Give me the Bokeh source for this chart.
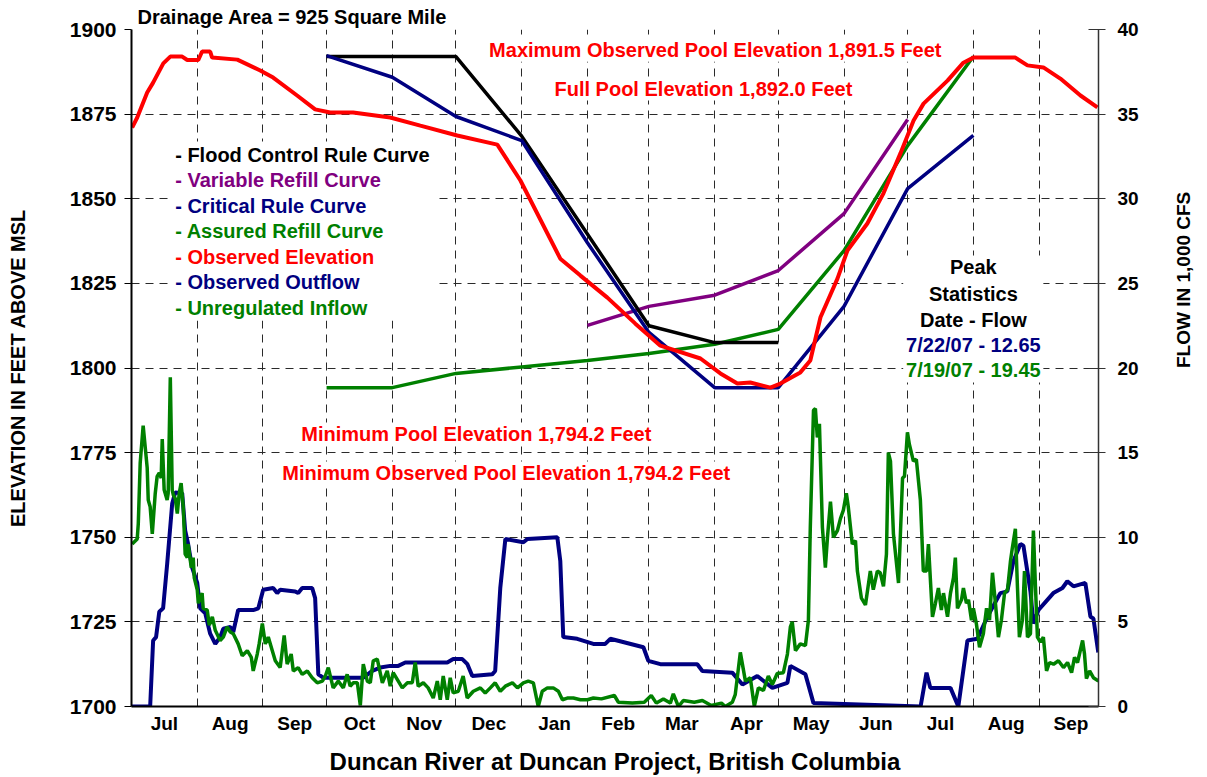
import math
from bokeh.plotting import figure
from bokeh.models import Range1d, LinearAxis, FixedTicker, Label, BoxAnnotation
from bokeh.embed import file_html
from bokeh.resources import INLINE

# x values are days since 1 Jul 2007
month_starts = [0, 31, 62, 92, 123, 153, 184, 215, 244, 275, 305, 336, 366, 397, 428, 458]
month_labels = ["Jul", "Aug", "Sep", "Oct", "Nov", "Dec", "Jan", "Feb", "Mar", "Apr",
                "May", "Jun", "Jul", "Aug", "Sep"]
elev_ticks = [1700, 1725, 1750, 1775, 1800, 1825, 1850, 1875, 1900]
flow_ticks = [0, 5, 10, 15, 20, 25, 30, 35, 40]

flood_day = [92, 153, 184, 244, 275, 305]
flood_elev = [1892.0, 1892.0, 1868.5, 1812.5, 1807.5, 1807.5]

variable_day = [215, 244, 275, 305, 336, 366]
variable_elev = [1812.6, 1818.2, 1821.5, 1828.8, 1845.6, 1873.4]

critical_day = [92, 123, 153, 184, 215, 244, 275, 305, 336, 366, 397]
critical_elev = [1892.3, 1885.9, 1874.3, 1867.2, 1837.0, 1810.5, 1794.2, 1794.2, 1818.2, 1853.0, 1868.7]

assured_day = [92, 123, 153, 184, 215, 244, 275, 305, 336, 366, 397]
assured_elev = [1794.2, 1794.2, 1798.4, 1800.3, 1802.2, 1804.3, 1807.0, 1811.4, 1834.7, 1865.7, 1892.0]

obs_elev_day = [0.3, 2.7, 7.4, 10.2, 15, 18.3, 23.9, 26.3, 31.5, 33.3,
                37.1, 38, 49.9, 60.7, 66.8, 78.1, 86.6, 93.7, 104.5, 122,
                136.2, 153.6, 172.5, 183.4, 202.2, 211.7, 224.4, 237.6, 249.4, 268.3,
                277.7, 285.7, 291.8, 301.3, 306, 315.4, 320.1, 324.9, 332.9, 337.6,
                347, 354.6, 362.6, 368.8, 373.5, 384.8, 392.3, 397, 406.5, 416.8,
                422.5, 430, 438, 447.5, 455.5]
obs_elev = [1871.0, 1874.0, 1881.4, 1884.3, 1890.0, 1892.0, 1892.0, 1891.0, 1891.0, 1893.5,
            1893.5, 1891.7, 1891.1, 1887.9, 1885.8, 1880.5, 1876.4, 1875.5, 1875.5, 1874.0,
            1871.6, 1868.7, 1866.0, 1855.4, 1832.3, 1827.3, 1820.8, 1813.1, 1806.6, 1802.8,
            1798.4, 1795.4, 1795.7, 1794.2, 1795.4, 1798.7, 1802.2, 1815.0, 1826.4, 1834.7,
            1842.7, 1851.6, 1863.4, 1873.1, 1878.1, 1884.9, 1890.2, 1891.7, 1891.7, 1891.7,
            1889.4, 1888.8, 1885.5, 1880.5, 1877.0]

outflow_day = [0, 8.8, 10.2, 11.6, 13.1, 14.9, 16.8, 19.2, 20.6, 23.9,
               25.3, 26.7, 28.6, 31, 32.4, 34.8, 37.1, 39.5, 41.8, 43.3,
               46.6, 48, 50.3, 57.4, 59.8, 62.1, 66.8, 68.7, 70.1, 77.2,
               78.6, 80.5, 85.2, 86.6, 88.1, 90.4, 109.3, 113.5, 117.3, 122,
               125.8, 129.1, 148.9, 151.7, 156, 158.4, 160.7, 170.1, 171.5, 173.9,
               176.3, 184.8, 186.7, 200.8, 202.2, 203.6, 210.2, 217.8, 223.4, 225.8,
               241.4, 243.7, 249.4, 254.1, 266.8, 269.2, 283.3, 288.1, 295.1, 302.2,
               309.3, 310.7, 317.8, 321.6, 372.1, 374.9, 376.7, 386.2, 389.9, 394.2,
               398.9, 403.6, 409.7, 413, 415.9, 419.2, 420.6, 423.9, 425.3, 427.7,
               431.9, 434.7, 439, 441.3, 444.2, 449.8, 452.2, 453.6, 455.9]
outflow = [0, 0, 3.9, 4.1, 5.6, 5.8, 8.4, 12.0, 12.65, 12.6,
           10.4, 9.6, 8.2, 7.3, 5.8, 5.5, 4.3, 3.7, 4.1, 4.6,
           4.7, 4.4, 5.7, 5.7, 5.8, 6.9, 7.0, 6.7, 6.9, 6.8,
           6.7, 7.0, 7.0, 6.4, 1.9, 1.7, 1.7, 2.1, 2.3, 2.4,
           2.4, 2.6, 2.6, 2.8, 2.8, 2.5, 1.8, 1.9, 2.1, 7.0,
           9.9, 9.7, 9.9, 10.0, 8.6, 4.1, 4.0, 3.7, 3.7, 4.0,
           3.5, 2.7, 2.5, 2.5, 2.5, 2.1, 2.0, 1.3, 1.8, 1.1,
           1.4, 2.4, 1.9, 0.2, 0, 2.0, 1.1, 1.1, 0, 3.9,
           4.0, 5.3, 6.7, 6.8, 8.6, 9.6, 9.5, 6.8, 4.9, 5.7,
           6.3, 6.7, 7.0, 7.4, 7.1, 7.3, 5.3, 5.2, 3.2]

inflow_day = [0.3, 2.7, 3.2, 4.1, 5.5, 7.4, 7.9, 8.8, 9.8, 11.2,
              12.1, 13.1, 14.0, 14.5, 15.4, 16.8, 17.3, 18.3, 19.2, 19.7,
              20.6, 21.6, 22.5, 23.4, 24.4, 25.3, 26.3, 26.7, 28.2, 29.1,
              29.6, 31.0, 31.5, 33.3, 33.8, 35.7, 36.7, 38.1, 39.5, 41.8,
              43.3, 45.1, 46.6, 48.0, 50.3, 52.2, 54.6, 56.5, 57.4, 59.3,
              60.2, 61.7, 63.1, 64.5, 66.4, 67.8, 70.1, 72.0, 73.4, 75.3,
              76.3, 78.6, 80.5, 82.9, 85.2, 87.6, 90.0, 91.4, 92.8, 95.1,
              97.5, 99.9, 101.7, 103.1, 104.6, 106.5, 107.9, 109.3, 111.2, 112.6,
              114.0, 115.9, 118.3, 120.6, 122.0, 123.4, 125.8, 127.7, 130.1, 132.4,
              133.8, 135.2, 137.6, 139.9, 142.3, 144.2, 145.6, 147.0, 148.9, 150.3,
              151.7, 154.1, 156.4, 158.3, 161.2, 164.5, 166.8, 169.2, 171.5, 173.9,
              176.3, 179.6, 182.0, 184.8, 187.1, 189.5, 191.8, 193.7, 196.1, 198.9,
              201.3, 203.2, 205.5, 208.4, 211.7, 215.0, 217.8, 221.6, 227.7, 229.6,
              236.2, 241.8, 245.1, 247.5, 250.8, 254.1, 255.5, 257.9, 260.2, 265.4,
              269.2, 273.4, 278.2, 280.0, 283.3, 284.7, 287.1, 289.5, 291.8, 293.7,
              295.6, 298.0, 300.3, 302.2, 304.5, 307.4, 309.3, 310.7, 311.6, 313.1,
              315.4, 317.8, 319.2, 320.1, 321.6, 322.5, 323.4, 324.4, 325.8, 327.2,
              328.2, 329.6, 331.0, 332.9, 334.3, 335.7, 337.1, 338.0, 339.9, 341.4,
              342.3, 344.2, 346.1, 348.4, 349.8, 351.7, 353.1, 354.6, 356.0, 356.9,
              357.9, 359.3, 361.7, 363.6, 364.5, 365.9, 366.8, 368.7, 370.1, 372.0,
              373.4, 374.9, 375.8, 377.7, 379.1, 380.5, 381.9, 382.9, 384.8, 386.2,
              387.6, 388.5, 389.5, 391.4, 392.3, 393.7, 394.7, 396.1, 397.0, 398.4,
              399.9, 401.7, 403.2, 404.6, 406.0, 407.4, 408.8, 410.2, 411.7, 413.1,
              414.5, 415.4, 416.8, 417.8, 418.7, 420.1, 421.1, 422.5, 423.9, 425.3,
              426.3, 427.2, 428.6, 430.0, 431.5, 432.9, 434.8, 437.1, 439.5, 441.4,
              443.3, 444.7, 446.1, 448.5, 449.4, 450.3, 451.8, 453.6, 456.0]
inflow = [9.6, 9.9, 10.8, 14.4, 16.6, 14.1, 12.2, 11.8, 10.2, 12.6,
          13.6, 13.8, 13.5, 15.8, 12.8, 12.2, 12.6, 19.45, 12.8, 12.5,
          12.3, 11.4, 12.6, 13.2, 11.8, 9.0, 8.8, 9.6, 8.2, 8.8,
          7.6, 6.9, 6.1, 6.7, 5.8, 5.7, 4.8, 5.3, 4.5, 3.9,
          4.1, 4.7, 4.4, 4.3, 3.7, 3.0, 3.3, 2.9, 2.1, 3.1,
          3.7, 4.9, 3.7, 4.1, 3.3, 2.7, 2.3, 4.2, 2.5, 3.1,
          2.1, 2.3, 1.9, 2.1, 1.7, 1.4, 1.5, 1.8, 2.3, 1.1,
          1.5, 1.1, 1.9, 1.2, 1.4, 1.4, 0.06, 2.5, 1.5, 1.4,
          2.7, 2.8, 1.4, 2.1, 1.2, 2.0, 1.5, 1.1, 1.4, 1.4,
          2.6, 1.2, 1.4, 1.1, 0.5, 1.5, 0.4, 1.8, 0.4, 1.7,
          0.8, 0.9, 1.8, 0.5, 0.9, 1.1, 0.8, 1.1, 1.4, 0.9,
          1.2, 1.4, 1.1, 1.4, 1.5, 1.4, 0.0, 0.9, 1.1, 1.1,
          0.9, 0.4, 0.5, 0.5, 0.4, 0.4, 0.5, 0.45, 0.65, 0.25,
          0.2, 0.25, 0.65, 0.2, 0.45, 0.2, 0.75, 0.0, 0.35, 0.25,
          0.35, 0.06, 0.2, 0.0, 0.25, 0.7, 3.2, 1.5, 1.7, 0.0,
          1.1, 0.95, 1.8, 1.3, 1.95, 2.0, 3.1, 4.7, 5.0, 3.3,
          3.7, 3.6, 5.1, 10.6, 17.5, 17.6, 15.9, 16.7, 10.6, 8.2,
          10.0, 12.1, 10.0, 10.4, 11.1, 11.6, 12.6, 11.8, 9.6, 9.8,
          8.0, 6.4, 6.0, 8.0, 6.9, 8.0, 7.9, 7.1, 9.0, 15.0,
          14.5, 10.2, 7.3, 13.5, 13.6, 16.2, 15.5, 14.5, 14.6, 12.2,
          8.0, 8.0, 9.6, 5.3, 6.1, 7.0, 5.7, 6.7, 5.3, 6.7,
          7.6, 8.8, 5.8, 6.3, 7.0, 6.1, 6.3, 5.1, 5.8, 4.9,
          3.5, 4.3, 5.8, 5.1, 7.9, 6.1, 4.1, 5.1, 6.7, 6.9,
          8.6, 9.4, 10.5, 7.0, 4.1, 5.1, 8.0, 4.1, 4.3, 10.4,
          7.0, 4.1, 3.8, 4.1, 2.1, 2.6, 2.5, 2.7, 2.3, 2.6,
          2.0, 2.9, 2.6, 3.9, 3.1, 1.65, 2.1, 1.7, 1.5]

legend_texts = ["- Flood Control Rule Curve", "- Variable Refill Curve", "- Critical Rule Curve",
                "- Assured Refill Curve", "- Observed Elevation", "- Observed Outflow",
                "- Unregulated Inflow"]
legend_colors = ["black", "#800080", "#000080", "#008000", "#FF0000", "#000080", "#008000"]

FONT = "Liberation Sans"
RED, NAVY, GREEN, PURPLE = "#FF0000", "#000080", "#008000", "#800080"

p = figure(frame_width=967, frame_height=677, output_backend="svg", toolbar_location=None,
           x_range=Range1d(0, 456), y_range=Range1d(1700, 1900),
           min_border_left=131, min_border_right=100, min_border_top=29, min_border_bottom=71)
p.outline_line_color = None
p.extra_y_ranges = {"flow": Range1d(0, 40)}

p.title.text = "Drainage Area = 925 Square Mile"
p.title.align = "left"
p.title.offset = 6
p.title.standoff = 4
p.title.text_font = FONT
p.title.text_font_style = "bold"
p.title.text_font_size = "20px"
p.title.text_color = "black"

# x axis: month names centred in each month, grid at month boundaries
mids = [(month_starts[i] + month_starts[i + 1]) / 2 for i in range(len(month_labels))]
p.xaxis.ticker = FixedTicker(ticks=mids)
p.xaxis.major_label_overrides = {m: lab for m, lab in zip(mids, month_labels)}
p.xaxis.major_tick_line_color = None
p.xaxis.major_tick_out = 0
p.xaxis.major_tick_in = 0
p.xaxis.minor_tick_line_color = None
p.xaxis.major_label_standoff = 6
p.xaxis.major_label_text_font = FONT
p.xaxis.major_label_text_font_style = "bold"
p.xaxis.major_label_text_font_size = "19px"
p.xaxis.major_label_text_color = "black"
p.xaxis.axis_label = "Duncan River at Duncan Project, British Columbia"
p.xaxis.axis_label_text_font = FONT
p.xaxis.axis_label_text_font_style = "bold"
p.xaxis.axis_label_text_font_size = "24px"
p.xaxis.axis_label_text_color = "black"
p.xaxis.axis_label_standoff = 11
p.xaxis.axis_line_width = 2
p.xaxis.axis_line_color = "black"

p.yaxis.ticker = FixedTicker(ticks=elev_ticks)
p.yaxis.major_tick_out = 7
p.yaxis.major_tick_in = 0
p.yaxis.minor_tick_line_color = None
p.yaxis.major_label_standoff = 8
p.yaxis.major_label_text_font = FONT
p.yaxis.major_label_text_font_style = "bold"
p.yaxis.major_label_text_font_size = "21px"
p.yaxis.major_label_text_color = "black"
p.yaxis.axis_label = "ELEVATION IN FEET ABOVE MSL"
p.yaxis.axis_label_text_font = FONT
p.yaxis.axis_label_text_font_style = "bold"
p.yaxis.axis_label_text_font_size = "20px"
p.yaxis.axis_label_text_color = "black"
p.yaxis.axis_label_standoff = 38
p.yaxis.axis_line_width = 2
p.yaxis.axis_line_color = "black"
p.yaxis.major_tick_line_color = "black"

ax2 = LinearAxis(y_range_name="flow", ticker=FixedTicker(ticks=flow_ticks),
                 axis_label="FLOW IN 1,000 CFS")
ax2.axis_label_orientation = math.pi / 2
ax2.major_tick_in = 10
ax2.major_tick_out = 7
ax2.minor_tick_line_color = None
ax2.major_label_standoff = 12
ax2.major_label_text_font = FONT
ax2.major_label_text_font_style = "bold"
ax2.major_label_text_font_size = "19px"
ax2.major_label_text_color = "black"
ax2.axis_label_text_font = FONT
ax2.axis_label_text_font_style = "bold"
ax2.axis_label_text_font_size = "19px"
ax2.axis_label_text_color = "black"
ax2.axis_label_standoff = 42
ax2.axis_line_color = "#333333"
ax2.axis_line_width = 1.5
ax2.major_tick_line_color = "#333333"
p.add_layout(ax2, "right")

p.xgrid.ticker = FixedTicker(ticks=month_starts[1:-1])
p.ygrid.ticker = FixedTicker(ticks=elev_ticks[1:])
for g in (p.xgrid, p.ygrid):
    g.grid_line_color = "#2a2a2a"
    g.grid_line_dash = "8 6"
    g.grid_line_width = 1

# white boxes behind the text blocks (they hide the grid, as in the original)
for left, right, top, bottom in [(17.4, 143.7, 1866.9, 1814.0),
                                 (167.3, 383.4, 1897.0, 1890.5),
                                 (198.4, 341.8, 1885.5, 1879.0),
                                 (78.6, 247.0, 1783.9, 1777.4),
                                 (69.7, 283.8, 1772.4, 1765.9),
                                 (363.9, 430.0, 1833.2, 1795.7)]:
    p.add_layout(BoxAnnotation(left=left, right=right, top=top, bottom=bottom,
                               fill_color="white", fill_alpha=1.0, line_alpha=0,
                               level="underlay"))

# flows (right axis)
p.line(outflow_day, outflow, y_range_name="flow", color=NAVY, line_width=4)
p.line(inflow_day, inflow, y_range_name="flow", color=GREEN, line_width=3.5)

# elevation curves (left axis)
p.line(assured_day, assured_elev, color=GREEN, line_width=3.5)
p.line(variable_day, variable_elev, color=PURPLE, line_width=3.5)
p.line(flood_day, flood_elev, color="black", line_width=3.5)
p.line(critical_day, critical_elev, color=NAVY, line_width=3.5)
p.line(obs_elev_day, obs_elev, color=RED, line_width=4)


def lab(x, y, text, color="black", size="20px", align="left"):
    p.add_layout(Label(x=x, y=y, text=text, text_color=color, text_font=FONT,
                       text_font_style="bold", text_font_size=size,
                       text_align=align, text_baseline="middle"))


lab(275.3, 1893.8, "Maximum Observed Pool Elevation 1,891.5 Feet", RED, align="center")
lab(269.7, 1882.3, "Full Pool Elevation 1,892.0 Feet", RED, align="center")
lab(162.6, 1780.6, "Minimum Pool Elevation 1,794.2 Feet", RED, align="center")
lab(176.7, 1769.1, "Minimum Observed Pool Elevation 1,794.2 Feet", RED, align="center")

leg_y = [1862.8, 1855.4, 1848.0, 1840.6, 1832.9, 1825.3, 1817.6]
for t, c, y in zip(legend_texts, legend_colors, leg_y):
    lab(20.6, y, t, c)

stats = [("Peak", "black"), ("Statistics", "black"), ("Date - Flow", "black"),
         ("7/22/07 - 12.65", NAVY), ("7/19/07 - 19.45", GREEN)]
for (t, c), y in zip(stats, [1829.7, 1822.0, 1814.3, 1806.9, 1799.3]):
    lab(397.0, y, t, c, align="center")

open("out.html", "w").write(file_html(p, INLINE))
